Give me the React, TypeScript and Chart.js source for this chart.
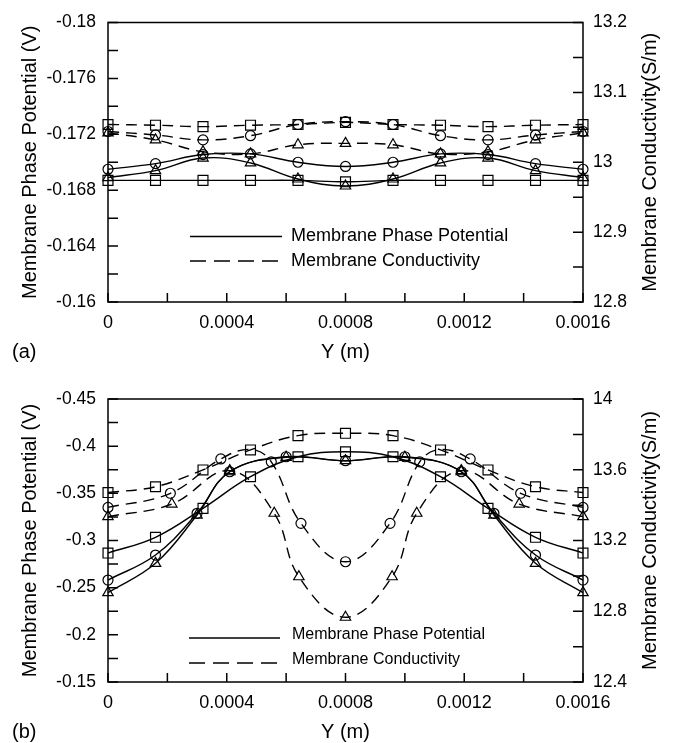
import React, { useEffect, useRef } from 'react';
import { Chart, registerables } from 'chart.js';

Chart.register(...registerables);

const FONT = '"Liberation Sans", Arial, Helvetica, sans-serif';

// ---------- shared x positions ----------
const xUniform = [0, 0.00016, 0.00032, 0.00048, 0.00064, 0.0008, 0.00096, 0.00112, 0.00128, 0.00144, 0.0016];

// ---------- panel (a) ----------
const aSquarePotential = [-0.1687, -0.1687, -0.1687, -0.1687, -0.1687, -0.1686, -0.1687, -0.1687, -0.1687, -0.1687, -0.1687];
const aCirclePotential = [-0.1695, -0.1699, -0.17055, -0.1706, -0.17, -0.1697, -0.17, -0.1706, -0.17055, -0.1699, -0.1695];
const aTrianglePotential = [-0.1689, -0.1694, -0.1703, -0.16995, -0.1688, -0.1683, -0.1688, -0.16995, -0.1703, -0.1694, -0.1689];
const aSquareConductivity = [13.054, 13.053, 13.051, 13.053, 13.054, 13.057, 13.054, 13.053, 13.051, 13.053, 13.054];
const aCircleConductivity = [13.044, 13.039, 13.032, 13.038, 13.054, 13.058, 13.054, 13.038, 13.032, 13.039, 13.044];
const aTriangleConductivity = [13.042, 13.032, 13.015, 13.012, 13.025, 13.027, 13.025, 13.012, 13.015, 13.032, 13.042];

// ---------- panel (b) ----------
const bSquarePotential = [-0.2867, -0.3034, -0.3341, -0.3676, -0.3888, -0.3941, -0.3888, -0.3676, -0.3341, -0.3034, -0.2867];
const bCirclePotentialX = [0, 0.00016, 0.0003, 0.00041, 0.0006, 0.0008, 0.001, 0.00119, 0.0013, 0.00144, 0.0016];
const bCirclePotential = [-0.2581, -0.2846, -0.3288, -0.3729, -0.3888, -0.3846, -0.3888, -0.3729, -0.3288, -0.2846, -0.2581];
const bTrianglePotential = [-0.2447, -0.2758, -0.327, -0.3729, -0.3882, -0.3846, -0.3882, -0.3729, -0.327, -0.2758, -0.2447];
const bSquareConductivity = [13.471, 13.504, 13.599, 13.712, 13.793, 13.806, 13.793, 13.712, 13.599, 13.504, 13.471];
const bCircleConductivityX = [0, 0.00021, 0.00038, 0.00048, 0.00055, 0.00065, 0.0008, 0.00095, 0.00105, 0.00112, 0.00122, 0.00139, 0.0016];
const bCircleConductivity = [13.387, 13.467, 13.661, 13.715, 13.645, 13.297, 13.08, 13.297, 13.645, 13.715, 13.661, 13.467, 13.387];
const bCircleConductivityMarker = [1, 1, 1, 0, 1, 1, 1, 1, 1, 0, 1, 1, 1];
const bTriangleConductivityX = [0, 0.000215, 0.00041, 0.00056, 0.000643, 0.0008, 0.000957, 0.00104, 0.00119, 0.001385, 0.0016];
const bTriangleConductivity = [13.335, 13.406, 13.595, 13.354, 12.995, 12.766, 12.995, 13.354, 13.595, 13.406, 13.335];

// ---------- ticks ----------
const xTicks = [0, 0.0002, 0.0004, 0.0006, 0.0008, 0.001, 0.0012, 0.0014, 0.0016];
const xTickLabels = ['0', '', '0.0004', '', '0.0008', '', '0.0012', '', '0.0016'];
const aLeftTicks = [-0.18, -0.178, -0.176, -0.174, -0.172, -0.17, -0.168, -0.166, -0.164, -0.162, -0.16];
const aLeftTickLabels = ['-0.18', '', '-0.176', '', '-0.172', '', '-0.168', '', '-0.164', '', '-0.16'];
const aRightTicks = [12.8, 12.85, 12.9, 12.95, 13, 13.05, 13.1, 13.15, 13.2];
const aRightTickLabels = ['12.8', '', '12.9', '', '13', '', '13.1', '', '13.2'];
const bLeftTicks = [-0.45, -0.425, -0.4, -0.375, -0.35, -0.325, -0.3, -0.275, -0.25, -0.225, -0.2, -0.175, -0.15];
const bLeftTickLabels = ['-0.45', '', '-0.4', '', '-0.35', '', '-0.3', '', '-0.25', '', '-0.2', '', '-0.15'];
const bRightTicks = [12.4, 12.6, 12.8, 13, 13.2, 13.4, 13.6, 13.8, 14];
const bRightTickLabels = ['12.4', '', '12.8', '', '13.2', '', '13.6', '', '14'];

const xTitle = 'Y (m)';
const leftTitle = 'Membrane Phase Potential (V)';
const rightTitle = 'Membrane Conductivity(S/m)';
const legendLabels = ['Membrane Phase Potential', 'Membrane Conductivity'];

const RADII: Record<string, number> = { rect: 7, circle: 5, triangle: 6 };

function series(xs: number[], ys: number[], axis: string, style: string, dashed: boolean, marks?: number[]) {
  const r = RADII[style];
  return {
    data: xs.map((x, i) => ({ x, y: ys[i] })),
    yAxisID: axis,
    borderColor: '#000',
    borderWidth: 1.4,
    borderDash: dashed ? [11, 7] : [],
    pointStyle: style,
    pointRadius: marks ? marks.map((m) => (m ? r : 0)) : r,
    pointBorderColor: '#000',
    pointBorderWidth: 1.2,
    pointBackgroundColor: 'rgba(0,0,0,0)',
    tension: 0.4,
    fill: false,
    clip: false,
  };
}

function makeAxis(ticks: number[], labels: string[], opts: any) {
  return {
    type: 'linear',
    min: opts.min,
    max: opts.max,
    reverse: !!opts.reverse,
    position: opts.position,
    afterBuildTicks: (s: any) => {
      s.ticks = ticks.map((v) => ({ value: v }));
    },
    afterFit: (s: any) => {
      if (opts.width !== undefined) s.width = opts.width;
      if (opts.height !== undefined) s.height = opts.height;
    },
    grid: { display: false, drawTicks: false },
    border: { display: false },
    ticks: {
      autoSkip: false,
      maxRotation: 0,
      minRotation: 0,
      padding: opts.padding,
      color: '#000',
      font: { family: FONT, size: opts.fontSize },
      callback: (_v: any, i: number) => labels[i],
    },
  };
}

function framePlugin(cfg: any) {
  return {
    id: 'frame' + cfg.panel,
    afterDraw(chart: any) {
      const { ctx, chartArea: a } = chart;
      ctx.save();
      ctx.strokeStyle = '#000';
      ctx.lineWidth = 1.5;
      ctx.setLineDash([]);
      ctx.strokeRect(a.left, a.top, a.right - a.left, a.bottom - a.top);
      ctx.beginPath();
      const sx = chart.scales.x;
      for (const t of sx.ticks) {
        const p = sx.getPixelForValue(t.value);
        ctx.moveTo(p, a.bottom);
        ctx.lineTo(p, a.bottom - 9);
      }
      const sy = chart.scales.y;
      for (const t of sy.ticks) {
        const p = sy.getPixelForValue(t.value);
        ctx.moveTo(a.left, p);
        ctx.lineTo(a.left + 10, p);
      }
      const sy1 = chart.scales.y1;
      for (const t of sy1.ticks) {
        const p = sy1.getPixelForValue(t.value);
        ctx.moveTo(a.right, p);
        ctx.lineTo(a.right - 10, p);
      }
      ctx.stroke();

      // legend
      ctx.lineWidth = 1.5;
      ctx.beginPath();
      ctx.moveTo(cfg.legX1, cfg.legY1);
      ctx.lineTo(cfg.legX2, cfg.legY1);
      ctx.stroke();
      ctx.setLineDash([16, 8]);
      ctx.beginPath();
      ctx.moveTo(cfg.legX1, cfg.legY2);
      ctx.lineTo(cfg.legX2, cfg.legY2);
      ctx.stroke();
      ctx.setLineDash([]);
      ctx.fillStyle = '#000';
      ctx.textAlign = 'left';
      ctx.textBaseline = 'middle';
      ctx.font = `${cfg.legFont}px ${FONT}`;
      ctx.fillText(legendLabels[0], cfg.legTextX, cfg.legY1 + cfg.legTextDy);
      ctx.fillText(legendLabels[1], cfg.legTextX, cfg.legY2 + cfg.legTextDy);

      // titles
      ctx.font = `20px ${FONT}`;
      ctx.textAlign = 'center';
      ctx.fillText(xTitle, (a.left + a.right) / 2, a.bottom + 50);
      ctx.textAlign = 'left';
      ctx.fillText(cfg.panelLabel, 12, a.bottom + 50);
      const midY = (a.top + a.bottom) / 2;
      ctx.textAlign = 'center';
      ctx.save();
      ctx.translate(30, midY);
      ctx.rotate(-Math.PI / 2);
      ctx.fillText(leftTitle, 0, 0);
      ctx.restore();
      ctx.save();
      ctx.translate(650, midY);
      ctx.rotate(-Math.PI / 2);
      ctx.fillText(rightTitle, 0, 0);
      ctx.restore();
      ctx.restore();
    },
  };
}

function buildConfig(panel: 'a' | 'b'): any {
  const isA = panel === 'a';
  const datasets = isA
    ? [
        series(xUniform, aSquarePotential, 'y', 'rect', false),
        series(xUniform, aCirclePotential, 'y', 'circle', false),
        series(xUniform, aTrianglePotential, 'y', 'triangle', false),
        series(xUniform, aSquareConductivity, 'y1', 'rect', true),
        series(xUniform, aCircleConductivity, 'y1', 'circle', true),
        series(xUniform, aTriangleConductivity, 'y1', 'triangle', true),
      ]
    : [
        series(xUniform, bSquarePotential, 'y', 'rect', false),
        series(bCirclePotentialX, bCirclePotential, 'y', 'circle', false),
        series(bCirclePotentialX, bTrianglePotential, 'y', 'triangle', false),
        series(xUniform, bSquareConductivity, 'y1', 'rect', true),
        series(bCircleConductivityX, bCircleConductivity, 'y1', 'circle', true, bCircleConductivityMarker),
        series(bTriangleConductivityX, bTriangleConductivity, 'y1', 'triangle', true),
      ];
  const canvasH = isA ? 372 : 371;
  const top = isA ? 20 : 27;
  const bottom = isA ? 302 : 310;
  const plugin = framePlugin(
    isA
      ? { panel: 'a', panelLabel: '(a)', legX1: 190, legX2: 282, legTextX: 291, legY1: 236.5, legY2: 261, legFont: 18, legTextDy: 0 }
      : { panel: 'b', panelLabel: '(b)', legX1: 189, legX2: 280, legTextX: 292, legY1: 266, legY2: 291, legFont: 16, legTextDy: -3 }
  );
  return {
    type: 'line',
    data: { datasets },
    options: {
      animation: false,
      responsive: false,
      maintainAspectRatio: false,
      events: [],
      layout: { padding: { top, left: 0, right: 0, bottom: 0 } },
      plugins: { legend: { display: false }, tooltip: { enabled: false }, title: { display: false } },
      scales: {
        x: makeAxis(xTicks, xTickLabels, { min: 0, max: 0.0016, position: 'bottom', height: canvasH - bottom, padding: 10, fontSize: 18 }),
        y: makeAxis(isA ? aLeftTicks : bLeftTicks, isA ? aLeftTickLabels : bLeftTickLabels, {
          min: isA ? -0.18 : -0.45,
          max: isA ? -0.16 : -0.15,
          reverse: true,
          position: 'left',
          width: 108,
          padding: 12,
          fontSize: 17.5,
        }),
        y1: makeAxis(isA ? aRightTicks : bRightTicks, isA ? aRightTickLabels : bRightTickLabels, {
          min: isA ? 12.8 : 12.4,
          max: isA ? 13.2 : 14,
          position: 'right',
          width: 91,
          padding: 10,
          fontSize: 17.5,
        }),
      },
    },
    plugins: [plugin],
  };
}

export default function App() {
  const refA = useRef<HTMLCanvasElement>(null);
  const refB = useRef<HTMLCanvasElement>(null);
  useEffect(() => {
    const ca = new Chart(refA.current as HTMLCanvasElement, buildConfig('a'));
    const cb = new Chart(refB.current as HTMLCanvasElement, buildConfig('b'));
    return () => {
      ca.destroy();
      cb.destroy();
    };
  }, []);
  return (
    <div style={{ position: 'absolute', left: 0, top: 0, width: 674, height: 743, background: '#fff' }}>
      <canvas ref={refA} width={674} height={372} style={{ position: 'absolute', left: 0, top: 0, display: 'block' }} />
      <canvas ref={refB} width={674} height={371} style={{ position: 'absolute', left: 0, top: 372, display: 'block' }} />
    </div>
  );
}
